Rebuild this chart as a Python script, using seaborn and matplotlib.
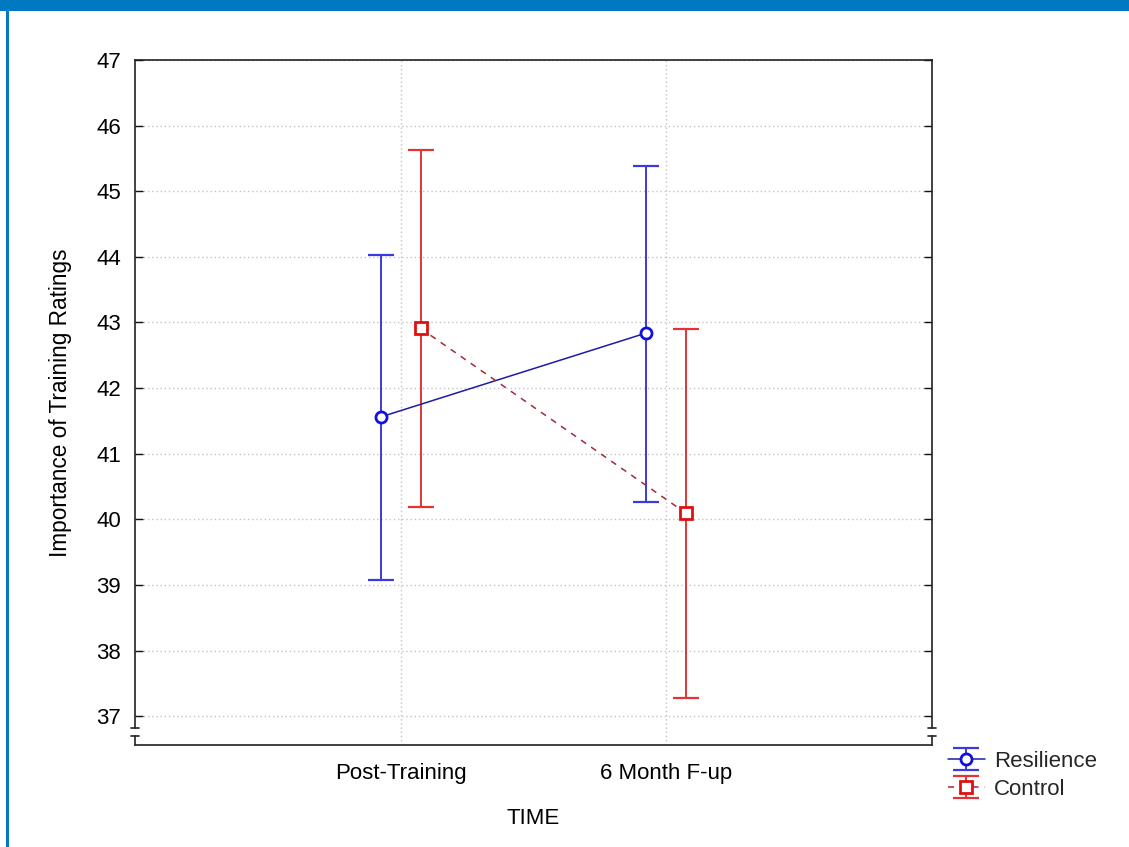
import matplotlib
matplotlib.use("Agg")
import matplotlib.pyplot as plt
from matplotlib.patches import Rectangle
from matplotlib.legend_handler import HandlerTuple
import seaborn as sns
import pandas as pd
import numpy as np

# ---- data ----
times = ["Post-Training", "6 Month F-up"]
groups = ["Resilience", "Control"]
resilience_mean = [41.56, 42.84]
resilience_low = [39.07, 40.27]
resilience_high = [44.03, 45.39]
control_mean = [42.91, 40.09]
control_low = [40.18, 37.28]
control_high = [45.63, 42.90]
y_ticks = [37, 38, 39, 40, 41, 42, 43, 44, 45, 46, 47]

df = pd.DataFrame({
    "TIME": times * 2,
    "group": [groups[0]] * 2 + [groups[1]] * 2,
    "value": resilience_mean + control_mean,
})

sns.set_theme(style="white")
plt.rcParams["font.family"] = ["Liberation Sans", "DejaVu Sans"]

W, H = 1129, 847
fig = plt.figure(figsize=(W / 100, H / 100), dpi=100)
fig.patch.set_facecolor("white")

# frame decoration: blue banner and left border
fig.patches.append(Rectangle((0, 1 - 11 / H), 1, 11 / H, transform=fig.transFigure,
                             facecolor="#0078C2", edgecolor="none", zorder=0))
fig.patches.append(Rectangle((6 / W, 0), 3 / W, 1, transform=fig.transFigure,
                             facecolor="#0078C2", edgecolor="none", zorder=0))

ax = fig.add_axes([135 / W, 1 - 745 / H, (932 - 135) / W, (745 - 60) / H])

line_colors = {"Resilience": "#1c1ca6", "Control": "#a8283c"}
sns.pointplot(data=df, x="TIME", y="value", hue="group", hue_order=groups,
              order=times, palette=line_colors, markers=["o", "s"],
              linestyles=["-", (0, (4, 4))], dodge=0.15, errorbar=None,
              legend=False, ax=ax, zorder=5)

edge_colors = ["#1010e0", "#e01010"]
pt_lines = [l for l in ax.lines if len(l.get_xdata()) == 2]
for l, ec in zip(pt_lines, edge_colors):
    l.set_markerfacecolor("white")
    l.set_markeredgecolor(ec)
    l.set_markersize(8)
    l.set_markeredgewidth(2)
    l.set_linewidth(1.1)

bar_colors = ["#3a3ae0", "#e23434"]
cap_colors = ["#2a2a70", "#8a3a50"]
offsets = [-0.075, 0.075]
means = [resilience_mean, control_mean]
lows = [resilience_low, control_low]
highs = [resilience_high, control_high]
containers = []
for i in range(2):
    xs = np.arange(len(times)) + offsets[i]
    m = np.array(means[i])
    yerr = [m - np.array(lows[i]), np.array(highs[i]) - m]
    c = ax.errorbar(xs, m, yerr=yerr, fmt="none", ecolor=bar_colors[i],
                    elinewidth=1.4, capsize=9.7, capthick=1.6, zorder=3)
    for cl in c[1]:
        cl.set_color(cap_colors[i])
    containers.append(c)

ax.set_xlim(-1, 2)
ax.set_ylim(36.56, 47)
ax.set_yticks(y_ticks)
ax.set_yticklabels([str(t) for t in y_ticks])
ax.set_xticks([0, 1])
ax.set_xticklabels(times)

ax.grid(True, color="#c4c4c4", linestyle=(0, (1, 2)), linewidth=1.0)
ax.set_axisbelow(True)
ax.tick_params(axis="both", direction="in", length=6, width=1, colors="#111111",
               labelsize=16, labelcolor="#000000")
ax.tick_params(axis="y", right=True, left=True, pad=10)
ax.tick_params(axis="x", bottom=False, pad=13)

for s in ax.spines.values():
    s.set_color("#222222")
    s.set_linewidth(1.2)
    s.set_visible(True)

# axis break on left and right spines
brk_top, brk_low, ybot = 36.82, 36.70, 36.56
ax.spines["left"].set_bounds(brk_top, 47)
ax.spines["right"].set_bounds(brk_top, 47)
for xa in (0, 1):
    trans = ax.get_yaxis_transform()
    ax.plot([xa, xa], [ybot, brk_low], color="#222222", lw=1.2, transform=trans,
            clip_on=False, zorder=6)
    for yb in (brk_top, brk_low):
        ax.plot([xa - 0.005, xa + 0.005], [yb, yb], color="#222222", lw=1.2,
                transform=trans, clip_on=False, zorder=6)

ax.set_xlabel("TIME", fontsize=16, color="#000000")
ax.set_ylabel("Importance of Training Ratings", fontsize=16.3, color="#000000")
ax.xaxis.set_label_coords(0.5, -0.092)
ax.yaxis.set_label_coords(-0.079, 0.5)

handles = [(containers[i], pt_lines[i]) for i in range(2)]
ax.legend(handles, groups, handler_map={tuple: HandlerTuple(ndivide=1)},
          loc="upper left", bbox_to_anchor=(937 / W, 1 - 740 / H),
          bbox_transform=fig.transFigure, frameon=False, fontsize=16,
          handlelength=1.65, handletextpad=0.4, labelspacing=0.3, borderpad=0)

fig.savefig("out.png", dpi=100)
